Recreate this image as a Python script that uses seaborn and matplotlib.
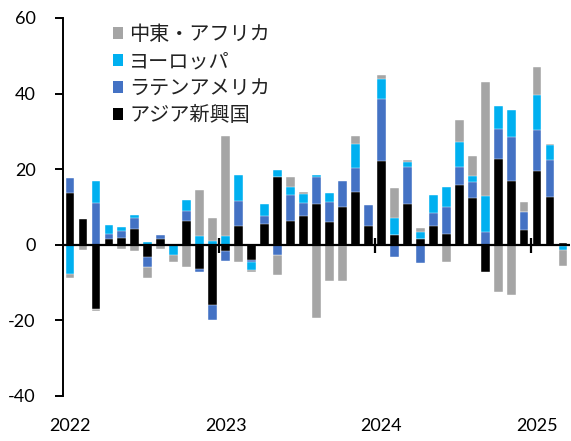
import numpy as np
import pandas as pd
import matplotlib
matplotlib.use("Agg")
import matplotlib.pyplot as plt
from matplotlib.patches import Patch
import seaborn as sns

# Monthly contributions, Jan 2022 - Mar 2025
months = pd.period_range("2022-01", "2025-03", freq="M").strftime("%Y-%m").tolist()

asia_em = [13.8, 6.8, -17.0, 1.5, 1.9, 4.1, -3.1, 1.5, 0.0, 6.3, -6.3, -15.9,
           -1.6, 4.9, -4.1, 5.6, 17.9, 6.3, 7.5, 10.9, 5.9, 9.9, 13.9, 5.1,
           22.1, 2.6, 10.9, 1.6, 4.9, 2.8, 15.7, 12.3, -7.2, 22.8, 17.0, 4.0,
           19.4, 12.7, 0.6]
latam = [3.8, 0.0, 11.0, 1.4, 1.7, 3.1, -2.7, 1.0, 0.0, 2.6, -0.9, -4.0,
         -2.8, 6.7, -0.5, 1.9, -2.6, 6.8, 3.5, 7.0, 5.4, 7.0, 6.4, 5.5,
         16.4, -3.3, 9.7, -4.9, 3.5, 7.3, 5.0, 4.3, 3.5, 7.8, 11.6, 4.8,
         10.9, 9.7, -0.3]
europe = [-7.7, 0.0, 5.9, 2.4, 1.2, 0.6, 0.7, 0.0, -2.6, 3.0, 2.2, 0.9,
          2.2, 6.9, -2.0, 3.3, 1.9, 2.2, 2.5, 0.6, 2.5, -0.3, 6.3, 0.0,
          5.3, 4.4, 1.3, 1.8, 4.8, 5.2, 6.5, 1.7, 9.5, 6.2, 7.1, 0.0,
          9.3, 4.0, -1.0]
mea = [-1.1, -1.5, -0.4, 0.0, -1.2, -1.6, -3.0, -1.2, -1.9, -5.9, 12.2, 6.1,
       26.5, -4.6, -0.7, 0.0, -5.4, 2.7, 0.6, -19.4, -9.6, -9.3, 2.1, 0.0,
       1.0, 8.0, 0.6, 1.0, 0.0, -4.5, 5.9, 5.2, 30.2, -12.4, -13.4, 2.5,
       7.4, 0.2, -4.3]

series_names = ["中東・アフリカ", "ヨーロッパ", "ラテンアメリカ", "アジア新興国"]
series_colors = ["#A5A5A5", "#00B0F0", "#4472C4", "#000000"]
year_labels = ["2022", "2023", "2024", "2025"]

# stacking order from the zero line outward
stack = pd.DataFrame({"アジア新興国": asia_em, "ラテンアメリカ": latam,
                      "ヨーロッパ": europe, "中東・アフリカ": mea}, index=months)
pos_cum = stack.clip(lower=0).cumsum(axis=1)
neg_cum = stack.clip(upper=0).cumsum(axis=1)

sns.set_theme(style="white")
plt.rcParams["font.family"] = ["Lato", "Noto Sans CJK JP", "DejaVu Sans"]
plt.rcParams["axes.unicode_minus"] = False

fig = plt.figure(figsize=(5.71, 4.41), dpi=100)
ax = fig.add_axes([63 / 571, 1 - 396 / 441, 507 / 571, 378 / 441])

x_idx = np.arange(len(months))
# outermost layer first, inner layers painted over it
for name, color in zip(series_names, series_colors):
    for cum in (pos_cum, neg_cum):
        df = pd.DataFrame({"month": x_idx, "value": cum[name].values})
        sns.barplot(data=df, x="month", y="value", color=color, width=0.68,
                    errorbar=None, saturation=1, edgecolor="white",
                    linewidth=0.3, ax=ax, native_scale=True)

ax.axhline(0, color="black", lw=1.6, zorder=5)
year_starts = x_idx[::12]
ax.vlines(year_starts[1:] - 0.5, -2.1, 1.9, color="black", lw=1.6, zorder=5)

ax.set_xlim(-0.54, len(months) - 0.46)
ax.set_ylim(-40, 60)
ax.set_yticks(np.arange(-40, 61, 20))
ax.set_xticks(year_starts)
ax.set_xticklabels(year_labels)
ax.set_xlabel("")
ax.set_ylabel("")

for s in ("top", "right", "bottom"):
    ax.spines[s].set_visible(False)
ax.spines["left"].set_color("black")
ax.spines["left"].set_linewidth(1.4)
ax.tick_params(axis="y", direction="out", length=5.8, width=1.4, pad=14,
               labelsize=13, colors="black", left=True)
ax.tick_params(axis="x", length=0, pad=16, labelsize=13, colors="black")

handles = [Patch(facecolor=c, edgecolor="none") for c in series_colors]
leg = ax.legend(handles, series_names, loc="upper left",
                bbox_to_anchor=(113 / 571, 1 - 24 / 441),
                bbox_transform=fig.transFigure, frameon=False,
                fontsize=14.5, handlelength=0.5, handleheight=0.5,
                handletextpad=0.3, labelspacing=0.3, borderpad=0,
                borderaxespad=0)
for t in leg.get_texts():
    t.set_color("#222222")
    t.set_family(["Noto Sans CJK JP", "DejaVu Sans"])

fig.savefig("out.png", dpi=100)
